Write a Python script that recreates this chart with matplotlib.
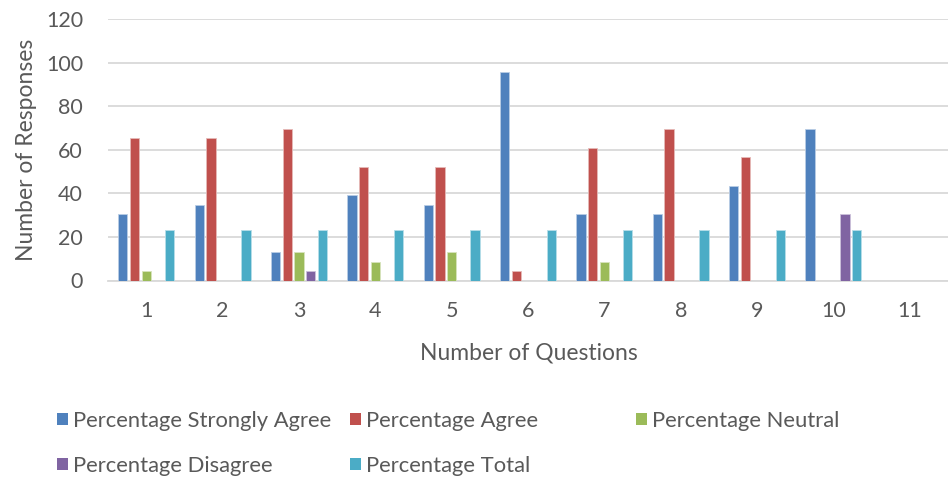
import matplotlib
matplotlib.use("Agg")
import matplotlib.pyplot as plt
from matplotlib.patches import Patch
import numpy as np

plt.rcParams['font.family'] = ['Lato', 'DejaVu Sans']

questions = ["1", "2", "3", "4", "5", "6", "7", "8", "9", "10", "11"]
strongly_agree = [30.43, 34.78, 13.04, 39.13, 34.78, 95.65, 30.43, 30.43, 43.48, 69.57, 0]
agree = [65.22, 65.22, 69.57, 52.17, 52.17, 4.35, 60.87, 69.57, 56.52, 0, 0]
neutral = [4.35, 0, 13.04, 8.70, 13.04, 0, 8.70, 0, 0, 0, 0]
disagree = [0, 0, 4.35, 0, 0, 0, 0, 0, 0, 30.43, 0]
total = [23, 23, 23, 23, 23, 23, 23, 23, 23, 23, 0]

series_names = ["Percentage Strongly Agree", "Percentage Agree", "Percentage Neutral",
                "Percentage Disagree", "Percentage Total"]
series = [strongly_agree, agree, neutral, disagree, total]
colors = ["#4F81BD", "#C0504D", "#9BBB59", "#8064A2", "#4BACC6"]
edges = ["#B9CDE5", "#E6B9B8", "#D7E4BD", "#CCC1DA", "#B7DEE8"]

W, H = 948, 484
fig = plt.figure(figsize=(W / 100, H / 100), dpi=100)
ax = fig.add_axes([108 / W, 1 - 280.5 / H, (948 - 108) / W, (280.5 - 19) / H])

x = np.arange(1, len(questions) + 1)
slot = 0.153
bw = 0.122
for i, (vals, c, ec, name) in enumerate(zip(series, colors, edges, series_names)):
    ax.bar(x + (i - 2) * slot, vals, width=bw, color=c, edgecolor=ec, linewidth=0.6,
           label=name, zorder=3)

ax.set_xlim(0.5, len(questions) + 0.5)
ax.set_ylim(0, 120)
ax.set_yticks(np.arange(0, 121, 20))
ax.set_xticks(x)
ax.set_xticklabels(questions)
ax.yaxis.grid(True, color="#D9D9D9", linewidth=1.3, zorder=0)
ax.set_axisbelow(True)
for s in ["top", "right", "left"]:
    ax.spines[s].set_visible(False)
ax.spines["bottom"].set_color("#D9D9D9")
ax.spines["bottom"].set_linewidth(1.3)
ax.tick_params(axis="both", length=0, labelsize=15.5, colors="#595959")
ax.tick_params(axis="x", pad=15)
ax.tick_params(axis="y", pad=18)

fig.text(529 / W, 1 - 353 / H, "Number of Questions", ha="center", va="center",
         fontsize=16.5, color="#595959")
fig.text(27 / W, 1 - 150 / H, "Number of Responses", ha="center", va="center",
         rotation=90, fontsize=16.5, color="#595959")

handles = [Patch(facecolor=c, edgecolor="none") for c in colors]
cols = [([0, 3], 57), ([1, 4], 350), ([2], 636)]
for idx, xpx in cols:
    fig.legend([handles[j] for j in idx], [series_names[j] for j in idx],
               loc="upper left", bbox_to_anchor=(xpx / W, 1 - 411 / H),
               frameon=False, fontsize=15.8, labelcolor="#595959",
               handlelength=0.5, handleheight=0.5, handletextpad=0.25,
               labelspacing=1.12, borderpad=0, borderaxespad=0)

fig.savefig("out.png", dpi=100)
